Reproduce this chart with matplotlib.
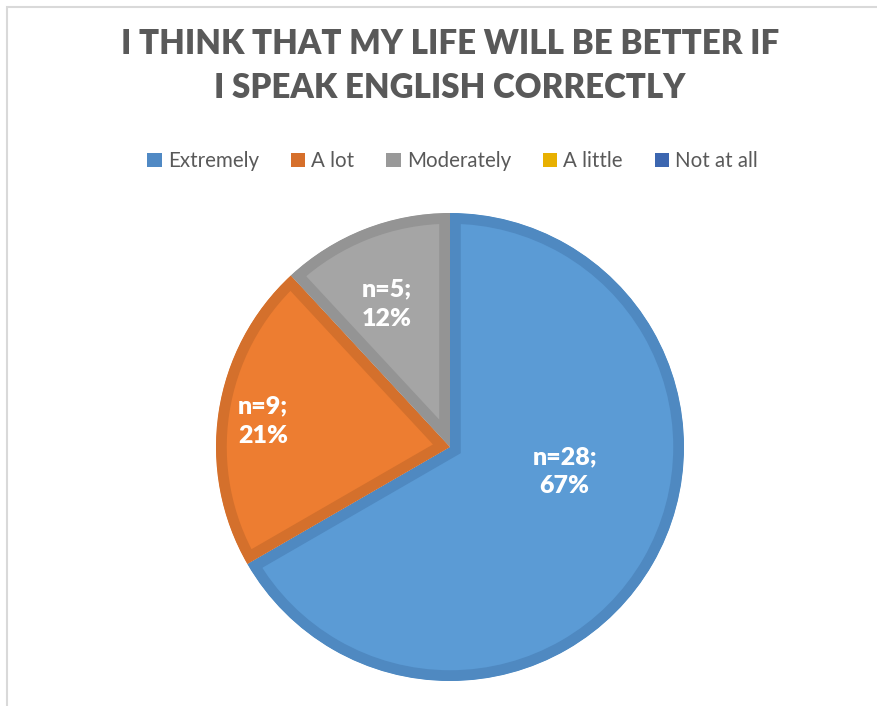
import matplotlib
matplotlib.use("Agg")
import matplotlib.pyplot as plt
from matplotlib.patches import Patch, Rectangle

# Survey responses
categories = ["Extremely", "A lot", "Moderately", "A little", "Not at all"]
counts = [28, 9, 5, 0, 0]
fill_colors = ["#5B9BD5", "#ED7D31", "#A5A5A5", "#FFC000", "#4472C4"]
edge_colors = ["#4F89C1", "#D4702C", "#949494", "#E6AD00", "#3D66B0"]
legend_colors = ["#5089C4", "#D66F2B", "#999999", "#E8B000", "#3C66B0"]
title_text = "I THINK THAT MY LIFE WILL BE BETTER IF\nI SPEAK ENGLISH CORRECTLY"

# label anchor points inside the pie (axes data units, radius = 1)
label_xy = [(0.49, -0.105), (-0.80, 0.11), (-0.27, 0.61)]

plt.rcParams["font.family"] = ["Lato", "DejaVu Sans"]

W, H = 878, 706
fig = plt.figure(figsize=(W / 100, H / 100), dpi=100)
fig.patch.set_facecolor("white")

# chart-area frame
fig.patches.append(Rectangle((7.5 / W, -0.1), 1.2, 1.1 - 7.5 / H, transform=fig.transFigure,
                             fill=False, edgecolor="#D9D9D9", linewidth=1.5))

cx, cy, R = 450, 447, 234
ax = fig.add_axes([(cx - R) / W, (H - cy - R) / H, 2 * R / W, 2 * R / H])

nz = [i for i, v in enumerate(counts) if v > 0]
vals = [counts[i] for i in nz]
wedges, _ = ax.pie(vals, colors=[fill_colors[i] for i in nz], startangle=90,
                   counterclock=False, radius=1, center=(0, 0), frame=False)
ax.set_xlim(-1, 1)
ax.set_ylim(-1, 1)
ax.set_aspect("equal")
ax.axis("off")

# inner borders: a wide stroke clipped to the wedge itself
for w, i in zip(wedges, nz):
    w.set_edgecolor(edge_colors[i])
    w.set_linewidth(15.5)
    w.set_joinstyle("miter")
    w.set_clip_on(True)
    w.set_clip_path(w)

total = sum(counts)
for (x, y), i in zip(label_xy, nz):
    pct = round(100 * counts[i] / total)
    ax.text(x, y, f"n={counts[i]};\n{pct}%", ha="center", va="center",
            color="white", fontsize=18, fontweight="heavy", linespacing=1.4)

fig.text(cx / W, 1 - 66 / H, title_text, ha="center", va="center",
         fontsize=23.8, fontweight="heavy", color="#595959", linespacing=1.5)

handles = [Patch(facecolor=c, edgecolor="none") for c in legend_colors]
fig.legend(handles, categories, loc="center", bbox_to_anchor=(cx / W + 0.003, 1 - 161 / H),
           ncol=5, frameon=False, fontsize=14.8, labelcolor="#595959",
           handlelength=0.7, handleheight=0.7, handletextpad=0.3, columnspacing=1.55)

fig.savefig("out.png", dpi=100, facecolor="white")
